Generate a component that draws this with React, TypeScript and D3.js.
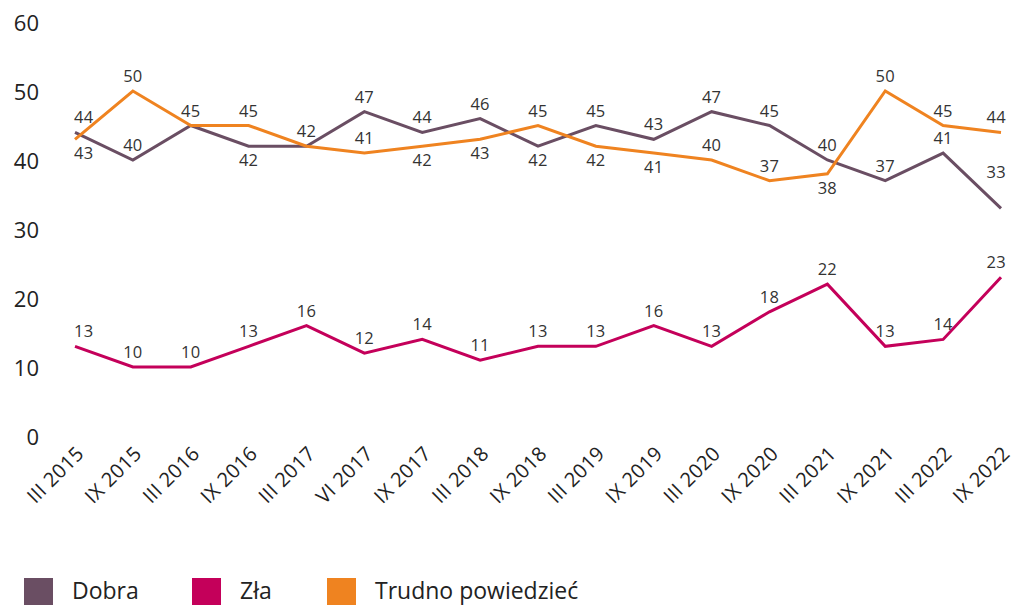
import * as d3 from "d3";
import { useEffect, useRef } from "react";

const categories = [
  "III 2015", "IX 2015", "III 2016", "IX 2016", "III 2017", "VI 2017", "IX 2017",
  "III 2018", "IX 2018", "III 2019", "IX 2019", "III 2020", "IX 2020", "III 2021",
  "IX 2021", "III 2022", "IX 2022",
];
const dobra = [44, 40, 45, 42, 42, 47, 44, 46, 42, 45, 43, 47, 45, 40, 37, 41, 33];
const zla = [13, 10, 10, 13, 16, 12, 14, 11, 13, 13, 16, 13, 18, 22, 13, 14, 23];
const trudno = [43, 50, 45, 45, 42, 41, 42, 43, 45, 42, 41, 40, 37, 38, 50, 45, 44];
// label placement: a = above, b = below, A = well above
const dobraPos = "aaabaaaabaaaaaaaA".split("");
const zlaPos = "aaaaaaaaaaaaaaaaa".split("");
const trudnoPos = "baaaaabbabbaabaaa".split("");
const yTicks = [0, 10, 20, 30, 40, 50, 60];
const seriesNames = ["Dobra", "Zła", "Trudno powiedzieć"];
const colors = ["#6a4e63", "#c4005a", "#ef8320"];

const FONT = "'Open Sans', sans-serif";

const App = () => {
  const svgRef = useRef<SVGSVGElement | null>(null);

  useEffect(() => {
    const svg = d3.select(svgRef.current);
    svg.selectAll("*").remove();

    const x = d3.scalePoint<string>().domain(categories).range([75, 1001]);
    const y = d3.scaleLinear().domain([0, 60]).range([436, 22]);

    // y axis labels (no axis line)
    svg.append("g")
      .selectAll("text")
      .data(yTicks)
      .join("text")
      .attr("x", 39)
      .attr("y", d => y(d) + 8.5)
      .attr("text-anchor", "end")
      .style("font-family", FONT)
      .style("font-size", "22px")
      .style("fill", "#222")
      .text(d => d);

    // x labels, rotated
    svg.append("g")
      .selectAll("text")
      .data(categories)
      .join("text")
      .attr("transform", d => `translate(${x(d)! + 10},455) rotate(-45)`)
      .attr("text-anchor", "end")
      .style("font-family", FONT)
      .style("font-size", "20px")
      .style("letter-spacing", "0.3px")
      .style("fill", "#222")
      .text(d => d);

    const series = [
      { values: dobra, pos: dobraPos, color: colors[0] },
      { values: zla, pos: zlaPos, color: colors[1] },
      { values: trudno, pos: trudnoPos, color: colors[2] },
    ];

    const line = d3.line<number>()
      .x((_, i) => x(categories[i])!)
      .y(d => y(d));

    series.forEach(s => {
      svg.append("path")
        .datum(s.values)
        .attr("fill", "none")
        .attr("stroke", s.color)
        .attr("stroke-width", 3)
        .attr("d", line);
    });

    // data labels; skip a label when an identical one already sits in the same spot
    const last = categories.length - 1;
    const used = new Set<string>();
    series.forEach(s => {
      const items = s.values
        .map((v, i) => ({ v, i, p: s.pos[i] }))
        .filter(d => {
          const key = `${d.i}-${d.v}-${d.p}`;
          if (used.has(key)) return false;
          used.add(key);
          return true;
        });
      svg.append("g")
        .selectAll("text")
        .data(items)
        .join("text")
        .attr("x", d => {
          const px = x(categories[d.i])!;
          if (d.i === 0) return px - 1;
          if (d.i === last) return px + 5;
          return px;
        })
        .attr("y", d => {
          if (d.p === "b") return y(d.v) + 20;
          if (d.p === "A") return y(d.v) - 30;
          return y(d.v) - 9;
        })
        .attr("text-anchor", d => (d.i === 0 ? "start" : d.i === last ? "end" : "middle"))
        .style("font-family", FONT)
        .style("font-size", "16.5px")
        .style("letter-spacing", "0.3px")
        .style("fill", "#333")
        .text(d => d.v);
    });

    // legend
    const legendX = [24, 192, 327];
    const legend = svg.append("g");
    seriesNames.forEach((name, i) => {
      legend.append("rect")
        .attr("x", legendX[i])
        .attr("y", 578)
        .attr("width", 29)
        .attr("height", 29)
        .attr("fill", colors[i]);
      legend.append("text")
        .attr("x", legendX[i] + 48)
        .attr("y", 599)
        .style("font-family", FONT)
        .style("font-size", "23px")
        .style("fill", "#222")
        .text(name);
    });
  }, []);

  return (
    <svg
      ref={svgRef}
      width={1017}
      height={605}
      style={{ position: "absolute", left: 0, top: 0, background: "#fff" }}
    />
  );
};

export default App;
